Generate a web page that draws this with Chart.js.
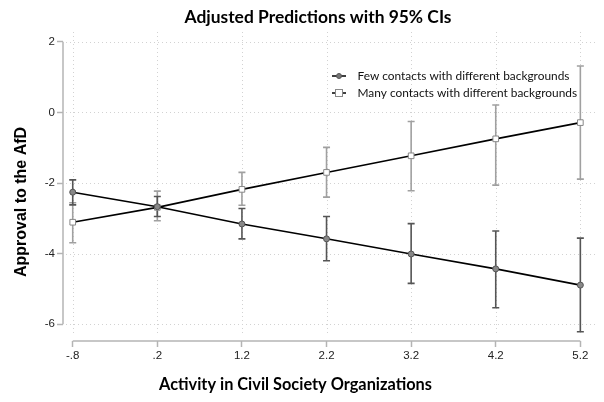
<!DOCTYPE html>
<html>
<head>
<meta charset="utf-8">
<script src="https://cdn.jsdelivr.net/npm/chart.js@4"></script>
<style>
html,body{margin:0;padding:0;background:#fff;}
#wrap{width:604px;height:402px;}
</style>
</head>
<body>
<div id="wrap"><canvas id="c" width="604" height="402"></canvas></div>
<script>
// ---- data ----
const xVals = [-0.8, 0.2, 1.2, 2.2, 3.2, 4.2, 5.2];
const xTickLabels = ["-.8", ".2", "1.2", "2.2", "3.2", "4.2", "5.2"];
const yTicks = [-6, -4, -2, 0, 2];
const yTickLabels = ["-6", "-4", "-2", "0", "2"];
const fewY  = [-2.26, -2.67, -3.16, -3.58, -4.01, -4.43, -4.89];
const fewLo = [-2.62, -2.95, -3.58, -4.20, -4.84, -5.53, -6.21];
const fewHi = [-1.91, -2.38, -2.72, -2.95, -3.15, -3.36, -3.56];
const manyY  = [-3.11, -2.69, -2.18, -1.70, -1.23, -0.75, -0.29];
const manyLo = [-3.69, -3.07, -2.63, -2.40, -2.22, -2.06, -1.89];
const manyHi = [-2.56, -2.23, -1.70, -0.99, -0.26, 0.21, 1.31];
const seriesNames = ["Few contacts with different backgrounds", "Many contacts with different backgrounds"];
const chartTitle = "Adjusted Predictions with 95% CIs";
const xTitle = "Activity in Civil Society Organizations";
const yTitle = "Approval to the AfD";

const AXIS_COLOR = '#b4b4b4';
const GRID_COLOR = '#d2d2d2';
const FEW_CI = '#555555';
const MANY_CI = '#a0a0a0';

function fitFont(ctx, text, weight, family, targetWidth) {
  ctx.font = weight + ' 20px ' + family;
  const w = ctx.measureText(text).width;
  const size = 20 * targetWidth / w;
  return weight + ' ' + size.toFixed(2) + 'px ' + family;
}

const decor = {
  id: 'decor',
  beforeDatasetsDraw(chart) {
    const ctx = chart.ctx, xs = chart.scales.x, ys = chart.scales.y, a = chart.chartArea;
    ctx.save();
    // dotted grid
    ctx.strokeStyle = GRID_COLOR; ctx.lineWidth = 1; ctx.setLineDash([1, 3]);
    xVals.forEach(v => {
      const px = Math.round(xs.getPixelForValue(v)) + 0.5;
      ctx.beginPath(); ctx.moveTo(px, a.top); ctx.lineTo(px, a.bottom - 6); ctx.stroke();
    });
    yTicks.forEach(v => {
      const py = Math.round(ys.getPixelForValue(v)) + 0.5;
      ctx.beginPath(); ctx.moveTo(a.left + 3, py); ctx.lineTo(a.right, py); ctx.stroke();
    });
    ctx.setLineDash([]);
    // axis lines spanning tick range only
    ctx.strokeStyle = AXIS_COLOR; ctx.lineWidth = 1.5;
    ctx.beginPath();
    ctx.moveTo(a.left, ys.getPixelForValue(yTicks[yTicks.length - 1]));
    ctx.lineTo(a.left, ys.getPixelForValue(yTicks[0]));
    ctx.stroke();
    ctx.beginPath();
    ctx.moveTo(xs.getPixelForValue(xVals[0]), a.bottom);
    ctx.lineTo(xs.getPixelForValue(xVals[xVals.length - 1]), a.bottom);
    ctx.stroke();
    // error bars
    const drawCI = (lo, hi, color) => {
      ctx.strokeStyle = color; ctx.lineWidth = 1.6;
      xVals.forEach((v, i) => {
        const px = xs.getPixelForValue(v);
        const pl = ys.getPixelForValue(lo[i]), ph = ys.getPixelForValue(hi[i]);
        ctx.beginPath();
        ctx.moveTo(px, pl); ctx.lineTo(px, ph);
        ctx.moveTo(px - 3.5, pl); ctx.lineTo(px + 3.5, pl);
        ctx.moveTo(px - 3.5, ph); ctx.lineTo(px + 3.5, ph);
        ctx.stroke();
      });
    };
    drawCI(manyLo, manyHi, MANY_CI);
    drawCI(fewLo, fewHi, FEW_CI);
    ctx.restore();
  },
  afterDraw(chart) {
    const ctx = chart.ctx;
    ctx.save();
    ctx.fillStyle = '#000';
    ctx.textAlign = 'center'; ctx.textBaseline = 'middle';
    ctx.font = fitFont(ctx, chartTitle, 'bold', 'Lato', 267);
    ctx.fillText(chartTitle, 318, 17);
    ctx.font = fitFont(ctx, xTitle, 'bold', 'Lato', 273);
    ctx.fillText(xTitle, 295.5, 385);
    ctx.save();
    ctx.translate(21.5, 202);
    ctx.rotate(-Math.PI / 2);
    ctx.font = 'bold 16px "Liberation Sans", Arial, sans-serif';
    ctx.fillText(yTitle, 0, 0);
    ctx.restore();
    // legend
    ctx.textAlign = 'left';
    const legY = [76, 93];
    ctx.font = fitFont(ctx, seriesNames[0], 'normal', 'Lato', 212);
    seriesNames.forEach((name, i) => {
      const y = legY[i];
      ctx.strokeStyle = '#000'; ctx.lineWidth = 1.5;
      ctx.beginPath(); ctx.moveTo(332, y); ctx.lineTo(346, y); ctx.stroke();
      if (i === 0) {
        ctx.fillStyle = '#777'; ctx.strokeStyle = '#555'; ctx.lineWidth = 1;
        ctx.beginPath(); ctx.arc(339, y, 2.5, 0, Math.PI * 2); ctx.fill(); ctx.stroke();
      } else {
        ctx.fillStyle = '#fff'; ctx.strokeStyle = '#888'; ctx.lineWidth = 1;
        ctx.fillRect(335.5, y - 3.5, 7, 7); ctx.strokeRect(335.5, y - 3.5, 7, 7);
      }
      ctx.fillStyle = '#111';
      ctx.fillText(name, 357.5, y + 0.5);
    });
    ctx.restore();
  }
};

const ctx = document.getElementById('c').getContext('2d');
new Chart(ctx, {
  type: 'line',
  data: {
    datasets: [
      {
        label: seriesNames[0],
        data: xVals.map((x, i) => ({x, y: fewY[i]})),
        borderColor: '#000', borderWidth: 1.6,
        pointStyle: 'circle', pointRadius: 3,
        pointBorderColor: '#555', pointBackgroundColor: '#888', pointBorderWidth: 1,
        fill: false, tension: 0
      },
      {
        label: seriesNames[1],
        data: xVals.map((x, i) => ({x, y: manyY[i]})),
        borderColor: '#000', borderWidth: 1.6,
        pointStyle: 'rect', pointRadius: 4,
        pointBorderColor: '#888', pointBackgroundColor: '#fff', pointBorderWidth: 1,
        fill: false, tension: 0
      }
    ]
  },
  options: {
    responsive: false,
    animation: false,
    devicePixelRatio: 1,
    layout: { padding: { top: 32, right: 8, left: 0, bottom: 0 } },
    plugins: { legend: { display: false }, title: { display: false }, tooltip: { enabled: false } },
    scales: {
      x: {
        type: 'linear', min: -0.915, max: 5.385,
        afterFit(s) { s.height = 61; },
        afterBuildTicks(s) { s.ticks = xVals.map(v => ({value: v})); },
        border: { display: false },
        grid: { drawOnChartArea: false, drawTicks: true, tickLength: 6, tickColor: AXIS_COLOR, tickWidth: 1.5 },
        ticks: {
          padding: 2, color: '#222',
          font: { family: '"Liberation Sans", Arial, sans-serif', size: 11.5 },
          maxRotation: 0, autoSkip: false,
          callback(v) { const i = xVals.findIndex(t => Math.abs(t - v) < 1e-6); return i >= 0 ? xTickLabels[i] : ''; }
        }
      },
      y: {
        type: 'linear', min: -6.472, max: 2.2745,
        afterFit(s) { s.width = 63; },
        afterBuildTicks(s) { s.ticks = yTicks.map(v => ({value: v})); },
        border: { display: false },
        grid: { drawOnChartArea: false, drawTicks: true, tickLength: 6, tickColor: AXIS_COLOR, tickWidth: 1.5 },
        ticks: {
          padding: 2, color: '#222',
          font: { family: '"Liberation Sans", Arial, sans-serif', size: 11.5 },
          callback(v) { const i = yTicks.indexOf(v); return i >= 0 ? yTickLabels[i] : ''; }
        }
      }
    }
  },
  plugins: [decor]
});
</script>
</body>
</html>
